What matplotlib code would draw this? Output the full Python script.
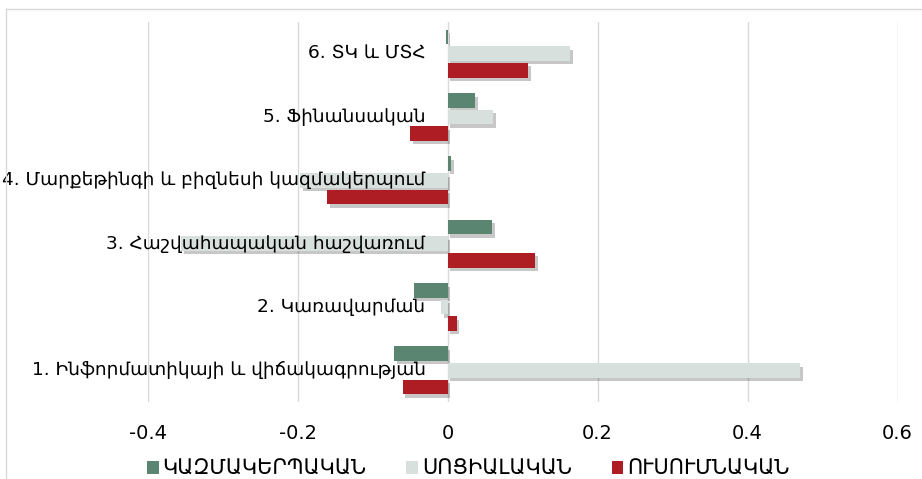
import matplotlib
matplotlib.use("Agg")
import matplotlib.pyplot as plt
import matplotlib.patheffects as pe
from matplotlib.lines import Line2D
from matplotlib.patches import Patch
import numpy as np

plt.rcParams['font.family'] = ['DejaVu Sans']

categories = [
    "1. Ինֆորմատիկայի և վիճակագրության",
    "2. Կառավարման",
    "3. Հաշվահապական հաշվառում",
    "4. Մարքեթինգի և բիզնեսի կազմակերպում",
    "5. Ֆինանսական",
    "6. ՏԿ և ՄՏՀ",
]
series_names = ["ԿԱԶՄԱԿԵՐՊԱԿԱՆ", "ՍՈՑԻԱԼԱԿԱՆ", "ՈՒՍՈՒՄՆԱԿԱՆ"]
kazmakerpakan = [-0.071, -0.045, 0.059, 0.005, 0.037, -0.002]
socialakan = [0.470, -0.009, -0.355, -0.197, 0.061, 0.163]
usumnakan = [-0.060, 0.012, 0.117, -0.161, -0.050, 0.107]
xticks = [-0.4, -0.2, 0, 0.2, 0.4, 0.6]
xticklabels = ["-0.4", "-0.2", "0", "0.2", "0.4", "0.6"]

colors = ["#5a8571", "#d7e0dc", "#ae1c24"]

W, H = 922, 479
fig = plt.figure(figsize=(W / 100, H / 100), dpi=100)
ax = fig.add_axes([147.5 / W, 1 - 402 / H, 750 / W, 380 / H])

y = np.arange(len(categories))
step = 0.262
bh = 0.23
shadow = [pe.SimplePatchShadow(offset=(2, -2.5), shadow_rgbFace='black', alpha=0.22), pe.Normal()]
for k, (vals, off) in enumerate(zip([kazmakerpakan, socialakan, usumnakan], [step, 0, -step])):
    bars = ax.barh(y + off, vals, height=bh, color=colors[k], zorder=3)
    for b in bars:
        b.set_path_effects(shadow)

ax.set_xlim(-0.4, 0.6)
ax.set_ylim(-0.5, len(categories) - 0.5)
ax.set_xticks(xticks)
ax.set_xticklabels(xticklabels, fontsize=14)
ax.set_yticks([])
ax.tick_params(axis='x', length=0, pad=16)
ax.grid(axis='x', color='#d9d9d9', lw=1, zorder=0)
for s in ax.spines.values():
    s.set_visible(False)

for yi, lab in zip(y, categories):
    ax.annotate(lab, xy=(0, yi), xytext=(-22, 0), textcoords='offset pixels',
                ha='right', va='center', fontsize=13.3, color='#000000', zorder=5,
                annotation_clip=False)

handles = [Patch(facecolor=c, edgecolor='none') for c in colors]
fig.legend(handles, series_names, loc='center', bbox_to_anchor=(0.508, 1 - 469 / H), ncol=3,
           frameon=False, fontsize=15, handlelength=0.55, handleheight=0.55, handletextpad=0.2,
           columnspacing=1.9, borderpad=0, borderaxespad=0)

# chart border
fig.add_artist(Line2D([6 / W, 6 / W], [0, 1 - 9 / H], transform=fig.transFigure, color='#d9d9d9', lw=1))
fig.add_artist(Line2D([6 / W, 1], [1 - 9 / H, 1 - 9 / H], transform=fig.transFigure, color='#d9d9d9', lw=1))

fig.savefig("out.png", dpi=100)
